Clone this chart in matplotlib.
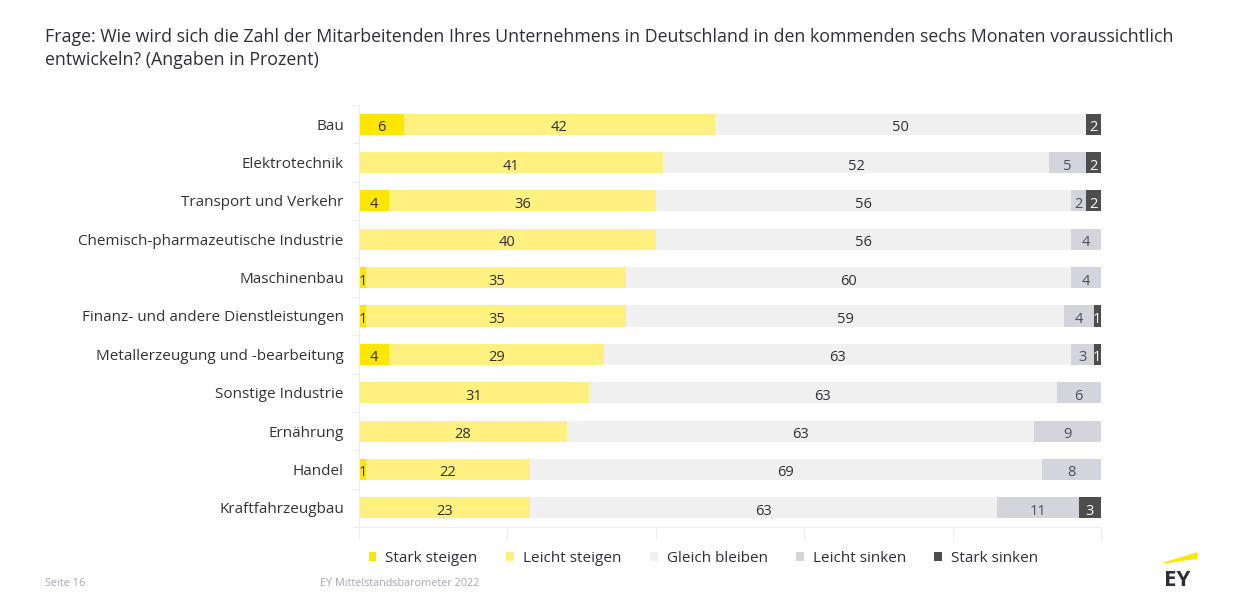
import matplotlib.pyplot as plt
from matplotlib.patches import Patch, Polygon

# Daten aus der Grafik
branchen = [
    "Bau", "Elektrotechnik", "Transport und Verkehr",
    "Chemisch-pharmazeutische Industrie", "Maschinenbau",
    "Finanz- und andere Dienstleistungen", "Metallerzeugung und -bearbeitung",
    "Sonstige Industrie", "Ernährung", "Handel", "Kraftfahrzeugbau",
]
stark_steigen = [6, 0, 4, 0, 1, 1, 4, 0, 0, 1, 0]
leicht_steigen = [42, 41, 36, 40, 35, 35, 29, 31, 28, 22, 23]
gleich_bleiben = [50, 52, 56, 56, 60, 59, 63, 63, 63, 69, 63]
leicht_sinken = [0, 5, 2, 4, 4, 4, 3, 6, 9, 8, 11]
stark_sinken = [2, 2, 2, 0, 0, 1, 1, 0, 0, 0, 3]

serien = ["Stark steigen", "Leicht steigen", "Gleich bleiben", "Leicht sinken", "Stark sinken"]
werte = [stark_steigen, leicht_steigen, gleich_bleiben, leicht_sinken, stark_sinken]
farben = ["#FFE600", "#FFF080", "#F0F0F0", "#D4D4DC", "#4D4D4D"]
textfarben = ["#2E2E38", "#2E2E38", "#2E2E38", "#4D4D55", "#FFFFFF"]

plt.rcParams["font.family"] = ["Open Sans", "DejaVu Sans"]
dunkel = "#2E2E38"
hell = "#EDEDED"

fig = plt.figure(figsize=(12.33, 6), dpi=100)
ax = fig.add_axes([0.2912, 0.1217, 0.6018, 0.7033])

y = list(range(len(branchen)))
links = [0] * len(branchen)
for name, vals, farbe, tf in zip(serien, werte, farben, textfarben):
    ax.barh(y, vals, left=links, height=0.55, color=farbe, zorder=2)
    for i, v in enumerate(vals):
        if v > 0:
            ax.text(links[i] + v / 2, y[i] + 0.04, str(v), ha="center", va="center_baseline",
                    fontsize=10.5, color=tf, zorder=3)
    links = [l + v for l, v in zip(links, vals)]

ax.set_xlim(0, 100)
ax.set_ylim(len(branchen) - 0.5, -0.5)
ax.set_yticks(y)
ax.set_yticklabels(branchen, fontsize=11, color="#333333")
ax.set_yticks([i - 0.5 for i in range(len(branchen) + 1)], minor=True)
ax.tick_params(axis="y", which="major", length=0, pad=11)
ax.tick_params(axis="y", which="minor", length=5, color=hell, width=0.8)
ax.set_xticks([0, 20, 40, 60, 80, 100])
ax.tick_params(axis="x", length=9, color=hell, width=0.8, labelbottom=False)
for s in ["top", "right"]:
    ax.spines[s].set_visible(False)
for s in ["left", "bottom"]:
    ax.spines[s].set_color(hell)
    ax.spines[s].set_linewidth(0.8)

fig.text(0.0365, 0.919, "Frage: Wie wird sich die Zahl der Mitarbeitenden Ihres Unternehmens in Deutschland "
         "in den kommenden sechs Monaten voraussichtlich\nentwickeln? (Angaben in Prozent)",
         ha="left", va="center", fontsize=12.8, color=dunkel, linespacing=1.3)

handles = [Patch(facecolor=f, edgecolor="none") for f in farben]
fig.legend(handles, serien, loc="center", bbox_to_anchor=(0.5705, 0.070), ncol=5,
           frameon=False, fontsize=11, handlelength=0.52, handleheight=0.52,
           handletextpad=0.59, columnspacing=1.85, labelcolor=dunkel)

fig.text(0.0365, 0.028, "Seite 16", fontsize=7.8, color="#A6A6B8", va="center")
fig.text(0.2595, 0.028, "EY Mittelstandsbarometer 2022", fontsize=7.8, color="#A6A6B8", va="center")

# EY-Logo
fig.patches.append(Polygon([[0.9440, 0.0617], [0.9708, 0.0783], [0.9708, 0.0700]],
                           closed=True, transform=fig.transFigure, color="#FFE600"))
fig.text(0.9440, 0.033, "EY", fontsize=16, fontweight="bold", color=dunkel, va="center")

fig.savefig("out.png", dpi=100)
